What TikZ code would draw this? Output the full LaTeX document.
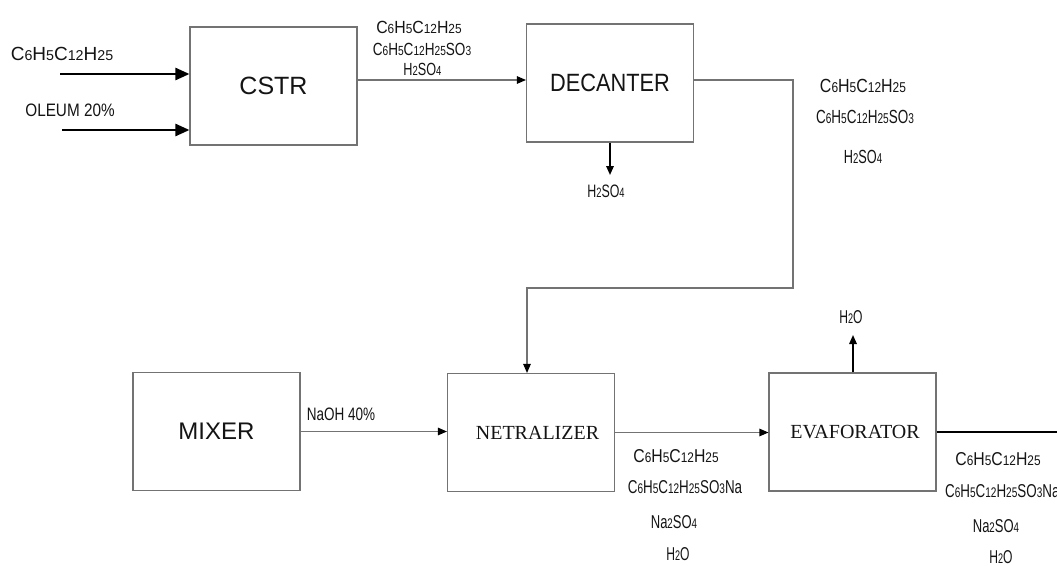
\documentclass[tikz,border=0pt]{standalone}
\usepackage{fontspec}
\setmainfont{Liberation Sans}
\newfontfamily\serifface{Liberation Serif}
\usepackage{graphicx}
\usetikzlibrary{arrows.meta}
\newcommand\dd[1]{\scalebox{0.75}{#1}}
\newcommand\sq[2]{\scalebox{#1}[1]{#2}}
\newcommand\fsz[1]{\fontsize{#1}{#1}\selectfont}
\begin{document}
\begin{tikzpicture}[x=1pt,y=-1pt,
  box/.style={draw=black!55, line width=1.1pt, minimum width=167pt, minimum height=118pt, inner sep=0pt, text=black!92},
  lbl/.style={anchor=base, inner sep=0pt, text=black!92},
  feed/.style={line width=2.4pt, -{Triangle[length=14pt,width=12pt]}},
  flow/.style={draw=black!55, line width=1.1pt, -{Triangle[length=9pt,width=7.5pt,black]}},
  outflow/.style={draw=black, line width=1.6pt, -{Triangle[length=9pt,width=7.5pt,black]}}]
\useasboundingbox (0,0) rectangle (1057,565);
\fill[white] (0,0) rectangle (1057,565);

% boxes
\node[box, font=\fsz{25}] (cstr) at (273.5,86) {CSTR};
\node[box, font=\fsz{25}] (dec) at (610,83) {\sq{0.87}{DECANTER}};
\node[box, font=\fsz{24}] (mix) at (216.5,431.5) {MIXER};
\node[box, font=\serifface\fsz{20}] (neu) at (531,432.5) {\hspace*{13pt}NETRALIZER};
\node[box, font=\serifface\fsz{20}] (eva) at (852.5,432) {\hspace*{5pt}EVAFORATOR};

% feed labels
\node[lbl, font=\fsz{19}] (f1) at (62,60) {C\dd6H\dd5C\dd{12}H\dd{25}};
\node[lbl, font=\fsz{18}] (f2) at (70,116) {\sq{0.85}{OLEUM 20\%}};
\coordinate (in1) at (60,74);
\coordinate (in2) at (62,130);
\draw[feed] (in1) -- (in1 -| cstr.west);
\draw[feed] (in2) -- (in2 -| cstr.west);

% CSTR -> decanter
\coordinate (p1) at (357,80);
\draw[flow] (p1) -- (p1 -| dec.west);
\node[lbl, font=\fsz{17.6}] (m1) at (419,33) {\sq{0.9}{C\dd6H\dd5C\dd{12}H\dd{25}}};
\node[lbl, font=\fsz{17.6}] (m2) at (422,55) {\sq{0.77}{C\dd6H\dd5C\dd{12}H\dd{25}SO\dd3}};
\node[lbl, font=\fsz{17.6}] (m3) at (422.5,75) {\sq{0.72}{H\dd2SO\dd4}};

% decanter bottom
\coordinate (d1) at (610,175);
\draw[outflow] (dec.south) -- (d1);
\node[lbl, font=\fsz{18}] (d2) at (606,197) {\sq{0.69}{H\dd2SO\dd4}};

% decanter -> neutralizer
\coordinate (c1) at (793,288);
\draw[flow] (dec.east |- p1) -| (c1) -| ([xshift=-4pt]neu.north);
\node[lbl, font=\fsz{19}] (r1) at (863,92) {\sq{0.84}{C\dd6H\dd5C\dd{12}H\dd{25}}};
\node[lbl, font=\fsz{19}] (r2) at (865,123) {\sq{0.71}{C\dd6H\dd5C\dd{12}H\dd{25}SO\dd3}};
\node[lbl, font=\fsz{19}] (r3) at (863,163) {\sq{0.67}{H\dd2SO\dd4}};

% mixer -> neutralizer
\draw[flow] (mix.east) -- (mix.east -| neu.west);
\node[lbl, font=\fsz{18}] (n0) at (341,420) {\sq{0.75}{NaOH 40\%}};

% neutralizer -> evaporator
\draw[flow] (neu.east) -- (neu.east -| eva.west);
\node[lbl, font=\fsz{18.6}] (n1) at (676,462) {\sq{0.85}{C\dd6H\dd5C\dd{12}H\dd{25}}};
\node[lbl, font=\fsz{18.6}] (n2) at (685,493) {\sq{0.72}{C\dd6H\dd5C\dd{12}H\dd{25}SO\dd3Na}};
\node[lbl, font=\fsz{18.6}] (n3) at (674,528) {\sq{0.70}{Na\dd2SO\dd4}};
\node[lbl, font=\fsz{18.6}] (n4) at (678,560) {\sq{0.65}{H\dd2O}};

% evaporator top
\coordinate (e1) at (853,335);
\draw[outflow] ([xshift=0.5pt]eva.north) -- (e1);
\node[lbl, font=\fsz{18.6}] (e2) at (851,323) {\sq{0.65}{H\dd2O}};

% evaporator out
\coordinate (e3) at (1060,432);
\draw[draw=black, line width=1.3pt] (eva.east) -- (e3);
\node[lbl, font=\fsz{18.6}] (o1) at (998,465) {\sq{0.85}{C\dd6H\dd5C\dd{12}H\dd{25}}};
\node[lbl, font=\fsz{18.6}, anchor=base west] (o2) at (945,497) {\sq{0.72}{C\dd6H\dd5C\dd{12}H\dd{25}SO\dd3Na}};
\node[lbl, font=\fsz{18.6}] (o3) at (996,532) {\sq{0.70}{Na\dd2SO\dd4}};
\node[lbl, font=\fsz{18.6}] (o4) at (1001,563) {\sq{0.65}{H\dd2O}};
\end{tikzpicture}
\end{document}
